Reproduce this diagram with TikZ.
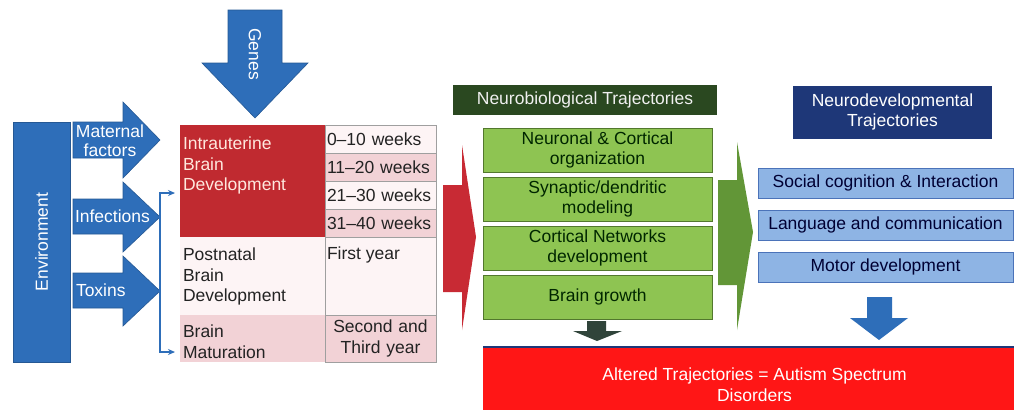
\documentclass[tikz,border=0pt]{standalone}
\usepackage{fontspec}
\setmainfont{Liberation Sans}
\usetikzlibrary{arrows.meta,positioning}

\definecolor{envblue}{RGB}{46,110,185}
\definecolor{intrared}{RGB}{192,42,48}
\definecolor{intratxt}{RGB}{255,232,222}
\definecolor{pinkA}{RGB}{242,210,214}
\definecolor{pinkB}{RGB}{253,244,245}
\definecolor{arrred}{RGB}{200,42,52}
\definecolor{hdgreen}{RGB}{42,72,32}
\definecolor{boxgreen}{RGB}{142,196,82}
\definecolor{edgegreen}{RGB}{82,120,45}
\definecolor{arrgreen}{RGB}{98,150,55}
\definecolor{darkarr}{RGB}{48,68,58}
\definecolor{hdnavy}{RGB}{30,55,120}
\definecolor{boxblue}{RGB}{142,180,228}
\definecolor{edgeblue}{RGB}{75,115,185}
\definecolor{asdred}{RGB}{255,22,22}
\definecolor{ink}{RGB}{35,35,35}

\begin{document}
\begin{tikzpicture}[
  x=1pt, y=-1pt,
  font=\fontsize{17.5}{20.5}\selectfont,
  every node/.style={outer sep=0pt, text=ink},
  blk/.style={fill=envblue, draw=envblue!80!black, line width=0.6pt},
  cell/.style={anchor=north west, minimum width=145, inner sep=0pt},
  ctxt/.style={anchor=north west, align=left, inner sep=0pt},
  wk/.style={draw=gray!75, line width=0.8pt, text width=107, inner xsep=2, inner ysep=0,
             minimum height=28, align=left},
  gbox/.style={draw=edgegreen, line width=1pt, fill=boxgreen, minimum width=229,
               minimum height=44, align=center, inner sep=0pt, text=black!85!green},
  bbox/.style={draw=edgeblue, line width=0.8pt, fill=boxblue, minimum width=255,
               minimum height=30, inner sep=0pt, text=black!80!blue},
  brk/.style={{Stealth[length=7pt,width=6pt]}-{Stealth[length=7pt,width=6pt]}, envblue, line width=1.2pt}
]
\fill[white] (0,0) rectangle (1014,410);
\useasboundingbox (0,0) rectangle (1014,410);

% environment and its arrows
\node[blk, rotate=90, minimum width=240, minimum height=57, text=white] (env) at (41.5,242) {Environment};
\fill[blk] (228,10) -- (282,10) -- (282,63) -- (308,63) -- (255,118) -- (202,63) -- (228,63) -- cycle;
\node[rotate=-90, text=white] (genes) at (255,54) {Genes};

\fill[blk] (73,122) -- (123,122) -- (123,102) -- (160,140) -- (123,178) -- (123,158) -- (73,158) -- cycle;
\node[text=white, align=center, font=\fontsize{17.5}{19}\selectfont] (mat) at (110,141) {Maternal\\factors};
\fill[blk] (73,199) -- (123,199) -- (123,182) -- (160,217) -- (123,252) -- (123,234) -- (73,234) -- cycle;
\node[text=white, anchor=west, inner sep=0pt] (inf) at (75,216) {Infections};
\fill[blk] (73,273) -- (123,273) -- (123,256) -- (160,291) -- (123,326) -- (123,308) -- (73,308) -- cycle;
\node[text=white, anchor=west, inner sep=0pt] (tox) at (76,290) {Toxins};

\coordinate (bt) at (175,193);
\coordinate (bm) at (160,272);
\coordinate (bb) at (175,352);
\draw[brk] (bt) -| (bm) |- (bb);

% stages
\node[cell, fill=intrared, minimum height=112] (intra) at (180,125) {};
\node[cell, fill=pinkB, minimum height=78, below=0pt of intra] (post) {};
\node[cell, fill=pinkA, minimum height=47, below=0pt of post] (matur) {};
\node[ctxt, text=intratxt] (intrat) at ([shift={(3,12)}]intra.north west) {Intrauterine\\Brain\\Development};
\node[ctxt] (postt) at ([shift={(3,11)}]post.north west) {Postnatal\\Brain\\Development};
\node[ctxt] (maturt) at ([shift={(3,10)}]matur.north west) {Brain\\Maturation};

\node[wk, fill=pinkB, anchor=north west] (w1) at (325,125) {0–10 weeks};
\node[wk, fill=pinkA, below=0pt of w1] (w2) {11–20 weeks};
\node[wk, fill=pinkB, below=0pt of w2] (w3) {21–30 weeks};
\node[wk, fill=pinkA, below=0pt of w3] (w4) {31–40 weeks};
\node[wk, fill=pinkB, minimum height=78, below=0pt of w4] (fy) {};
\node[ctxt] (fyt) at ([shift={(2,10)}]fy.north west) {First year};
\node[wk, fill=pinkA, minimum height=47, align=center, below=0pt of fy] (sty) {Second and\\Third year};

\fill[arrred] (443,185) -- (462,185) -- (462,145) -- (476,237) -- (462,330) -- (462,292) -- (443,292) -- cycle;

% neurobiological
\node[fill=hdgreen, minimum width=264, minimum height=30, inner sep=0pt, text=gray!12] (nbt) at (585,100) {Neurobiological Trajectories};
\node[gbox, anchor=north west] (g1) at (483,128) {Neuronal \& Cortical\\organization};
\node[gbox, below=5pt of g1] (g2) {Synaptic/dendritic\\modeling};
\node[gbox, below=5pt of g2] (g3) {Cortical Networks\\development};
\node[gbox, below=5pt of g3] (g4) {Brain growth};
\fill[darkarr] (587,321) -- (606,321) -- (606,331) -- (622,331) -- (597,341) -- (573,331) -- (587,331) -- cycle;

\fill[arrgreen] (718,180) -- (737,180) -- (737,142) -- (753,232) -- (737,330) -- (737,285) -- (718,285) -- cycle;

% neurodevelopmental
\node[fill=hdnavy, minimum width=199, minimum height=53, inner sep=0pt, align=center, text=white] (ndt) at (892.5,112) {Neurodevelopmental\\Trajectories};
\node[bbox, anchor=north west] (b1) at (758,168) {Social cognition \& Interaction};
\node[bbox, below=12pt of b1] (b2) {Language and communication};
\node[bbox, below=12pt of b2] (b3) {Motor development};
\fill[envblue] (867,297) -- (892,297) -- (892,318) -- (908,318) -- (879,340) -- (850,318) -- (867,318) -- cycle;

% outcome
\node[fill=asdred, anchor=north west, minimum width=531, minimum height=63, inner sep=0pt] (asd) at (483,347) {};
\draw[hdnavy, line width=1.2pt] (asd.north west) -- (asd.north east);
\node[text=white, align=center] (asdt) at ([shift={(6,6)}]asd.center) {Altered Trajectories = Autism Spectrum\\Disorders};
\end{tikzpicture}
\end{document}
